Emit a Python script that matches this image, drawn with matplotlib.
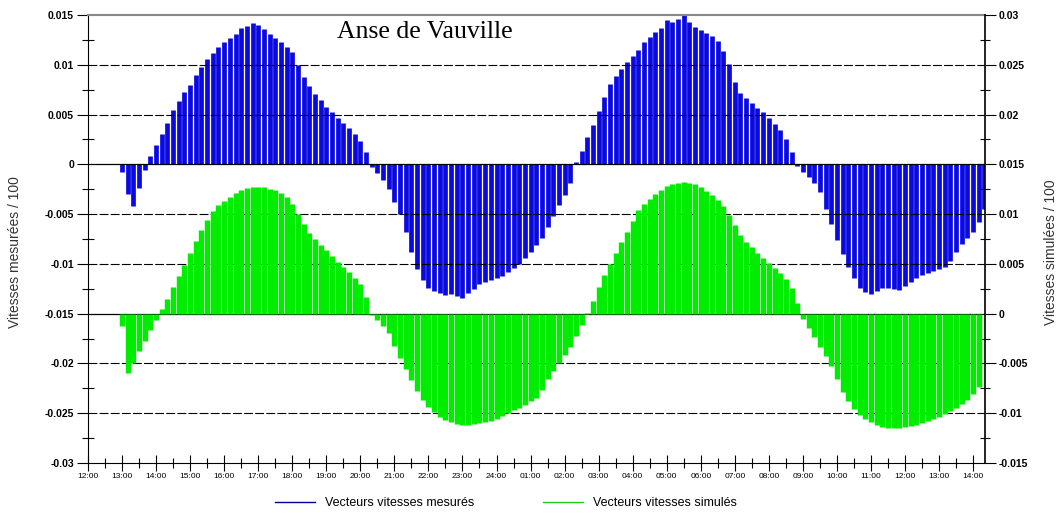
import numpy as np
import matplotlib.pyplot as plt
from matplotlib.lines import Line2D
from matplotlib.ticker import MultipleLocator

# measured current vectors (/100), one every 10 min starting 13:00
mesures = [
    -0.0008, -0.0030, -0.0042, -0.0024, -0.0006, 0.0008, 0.0019, 0.0030, 0.0042, 0.0055,
    0.0064, 0.0073, 0.0080, 0.0090, 0.0098, 0.0106, 0.0112, 0.0118, 0.0123, 0.0127,
    0.0131, 0.0137, 0.0139, 0.0142, 0.0140, 0.0136, 0.0131, 0.0127, 0.0123, 0.0118,
    0.0113, 0.0100, 0.0088, 0.0079, 0.0071, 0.0065, 0.0058, 0.0053, 0.0047, 0.0042,
    0.0036, 0.0030, 0.0023, 0.0012, -0.0003, -0.0009, -0.0016, -0.0025, -0.0038, -0.0050,
    -0.0068, -0.0088, -0.0105, -0.0116, -0.0124, -0.0127, -0.0129, -0.0131, -0.0130, -0.0132,
    -0.0134, -0.0129, -0.0125, -0.0120, -0.0118, -0.0116, -0.0114, -0.0112, -0.0108, -0.0104,
    -0.0100, -0.0094, -0.0088, -0.0081, -0.0074, -0.0063, -0.0052, -0.0041, -0.0031, -0.0019,
    0.0002, 0.0013, 0.0027, 0.0040, 0.0054, 0.0068, 0.0081, 0.0089, 0.0096, 0.0103,
    0.0109, 0.0115, 0.0123, 0.0128, 0.0133, 0.0137, 0.0145, 0.0143, 0.0146, 0.0150,
    0.0143, 0.0138, 0.0135, 0.0132, 0.0129, 0.0124, 0.0114, 0.0101, 0.0083, 0.0072,
    0.0067, 0.0062, 0.0057, 0.0053, 0.0047, 0.0041, 0.0034, 0.0025, 0.0012, -0.0002,
    -0.0008, -0.0013, -0.0019, -0.0028, -0.0045, -0.0060, -0.0076, -0.0090, -0.0103, -0.0114,
    -0.0124, -0.0128, -0.0130, -0.0127, -0.0124, -0.0124, -0.0125, -0.0126, -0.0122, -0.0118,
    -0.0114, -0.0111, -0.0109, -0.0107, -0.0105, -0.0103, -0.0097, -0.0088, -0.0080, -0.0074,
    -0.0068, -0.0058, -0.0045,
]

# simulated current vectors (/100), right axis, same time steps
simules = [
    -0.0012, -0.0060, -0.0050, -0.0038, -0.0027, -0.0016, -0.0006, 0.0005, 0.0015, 0.0027,
    0.0038, 0.0049, 0.0061, 0.0073, 0.0084, 0.0094, 0.0103, 0.0109, 0.0113, 0.0117,
    0.0121, 0.0124, 0.0126, 0.0127, 0.0127, 0.0127, 0.0125, 0.0124, 0.0121, 0.0117,
    0.0110, 0.0100, 0.0090, 0.0081, 0.0075, 0.0069, 0.0064, 0.0058, 0.0052, 0.0047,
    0.0042, 0.0036, 0.0030, 0.0017, -0.0001, -0.0006, -0.0012, -0.0019, -0.0032, -0.0045,
    -0.0056, -0.0067, -0.0078, -0.0087, -0.0094, -0.0099, -0.0104, -0.0107, -0.0109, -0.0111,
    -0.0112, -0.0112, -0.0111, -0.0110, -0.0109, -0.0108, -0.0106, -0.0103, -0.0100, -0.0097,
    -0.0095, -0.0092, -0.0088, -0.0085, -0.0077, -0.0066, -0.0058, -0.0050, -0.0042, -0.0033,
    -0.0022, -0.0011, 0.0001, 0.0013, 0.0027, 0.0039, 0.0050, 0.0061, 0.0072, 0.0082,
    0.0093, 0.0104, 0.0110, 0.0115, 0.0120, 0.0124, 0.0128, 0.0130, 0.0131, 0.0132,
    0.0131, 0.0130, 0.0127, 0.0123, 0.0119, 0.0114, 0.0108, 0.0099, 0.0089, 0.0079,
    0.0072, 0.0067, 0.0061, 0.0056, 0.0051, 0.0046, 0.0041, 0.0035, 0.0026, 0.0011,
    -0.0005, -0.0014, -0.0023, -0.0033, -0.0043, -0.0053, -0.0066, -0.0079, -0.0088, -0.0096,
    -0.0102, -0.0106, -0.0109, -0.0112, -0.0114, -0.0115, -0.0115, -0.0115, -0.0114, -0.0113,
    -0.0112, -0.0110, -0.0108, -0.0106, -0.0104, -0.0101, -0.0098, -0.0095, -0.0091, -0.0087,
    -0.0081, -0.0074,
]

hour_labels = ["12:00", "13:00", "14:00", "15:00", "16:00", "17:00", "18:00", "19:00",
               "20:00", "21:00", "22:00", "23:00", "24:00", "01:00", "02:00", "03:00",
               "04:00", "05:00", "06:00", "07:00", "08:00", "09:00", "10:00", "11:00",
               "12:00", "13:00", "14:00"]
left_ticks = [0.015, 0.01, 0.005, 0, -0.005, -0.01, -0.015, -0.02, -0.025, -0.03]
left_labels = ["0.015", "0.01", "0.005", "0", "-0.005", "-0.01", "-0.015", "-0.02", "-0.025", "-0.03"]
right_ticks = [0.03, 0.025, 0.02, 0.015, 0.01, 0.005, 0, -0.005, -0.01, -0.015]
right_labels = ["0.03", "0.025", "0.02", "0.015", "0.01", "0.005", "0", "-0.005", "-0.01", "-0.015"]

# hours after 12:00, first vector at 13:00, 10 min step
t_mes = 1 + np.arange(len(mesures)) / 6
t_sim = 1 + np.arange(len(simules)) / 6

blue = "#0a0ae0"
green = "#00ec00"

fig = plt.figure(figsize=(10.58, 5.13), dpi=100)
ax = fig.add_axes([88 / 1058, 1 - 463 / 513, 897 / 1058, 448 / 513])

ax.vlines(t_mes, 0, mesures, color=blue, lw=3.4, zorder=2)

for y in [0.01, 0.005, -0.005, -0.01, -0.02, -0.025]:
    ax.axhline(y, color="black", lw=0.8, ls=(0, (8, 2)), zorder=3)
ax.axhline(0, color="black", lw=0.9, zorder=3)
ax.axhline(-0.015, color="black", lw=0.9, zorder=1)

ax.set_xlim(0, 26.35)
ax.set_ylim(-0.03, 0.015)
ax.set_xticks(range(len(hour_labels)))
ax.set_xticklabels(hour_labels, fontsize=6, family="Liberation Sans")
ax.xaxis.set_minor_locator(MultipleLocator(0.5))
ax.set_yticks(left_ticks)
ax.set_yticklabels(left_labels, fontsize=7.5, fontweight="bold", family="Liberation Sans")
ax.yaxis.set_minor_locator(MultipleLocator(0.0025))
ax.tick_params(axis="x", which="major", direction="inout", length=11, width=0.8, pad=2)
ax.tick_params(axis="x", which="minor", direction="inout", length=7, width=0.8)
ax.tick_params(axis="y", which="major", direction="out", length=8, width=0.8, pad=2)
ax.tick_params(axis="y", which="minor", direction="inout", length=8, width=0.8)
ax.spines["top"].set_color("#888888")
ax.spines["top"].set_linewidth(1.5)
ax.spines["right"].set_visible(False)

ax2 = ax.twinx()
ax2.vlines(t_sim, 0, simules, color=green, lw=3.9, zorder=2)
ax2.set_ylim(-0.015, 0.03)
ax2.set_yticks(right_ticks)
ax2.set_yticklabels(right_labels, fontsize=7.5, fontweight="bold", family="Liberation Sans")
ax2.yaxis.set_minor_locator(MultipleLocator(0.0025))
ax2.tick_params(axis="y", which="major", direction="out", length=8, width=0.8, pad=2)
ax2.tick_params(axis="y", which="minor", direction="inout", length=7, width=0.8)
ax2.spines["top"].set_visible(False)
ax2.spines["left"].set_visible(False)
ax2.spines["bottom"].set_visible(False)
ax2.spines["right"].set_linewidth(1.2)

ax.text(0.375, 0.962, "Anse de Vauville", transform=ax.transAxes, ha="center", va="center",
        fontsize=18.5, family="Liberation Serif")

fig.text(15 / 1058, 1 - 252 / 513, "Vitesses mesurées / 100", rotation=90, ha="center",
         va="center", fontsize=10, color="#333333", family="Liberation Sans")
fig.text(1051 / 1058, 1 - 252 / 513, "Vitesses simulées / 100", rotation=90, ha="center",
         va="center", fontsize=10, color="#333333", family="Liberation Sans")

handles = [Line2D([], [], color="#000090", lw=1),
           Line2D([], [], color="#20d020", lw=1)]
fig.legend(handles, ["Vecteurs vitesses mesurés", "Vecteurs vitesses simulés"],
           loc="center", bbox_to_anchor=(506 / 1058, 1 - 503 / 513), ncol=2, frameon=False,
           prop={"family": "Liberation Sans", "size": 9}, handlelength=3.2,
           handletextpad=0.8, columnspacing=5.5)

fig.savefig("out.png", dpi=100)
